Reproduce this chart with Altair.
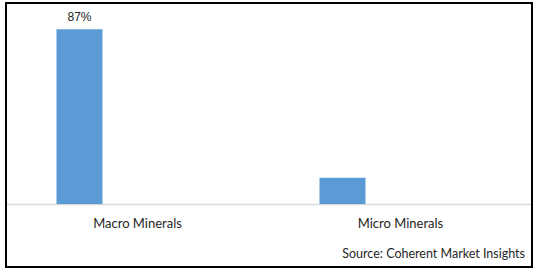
import altair as alt
import pandas as pd

categories = ["Macro Minerals", "Micro Minerals"]
values = [87, 13]
labels = ["87%", ""]
source_text = "Source: Coherent Market Insights"

df = pd.DataFrame({"category": categories, "value": values, "label": labels})

W, H = 526, 201

x = alt.X("category:N", sort=categories, title=None,
          scale=alt.Scale(paddingInner=0, paddingOuter=0),
          axis=alt.Axis(labelAngle=0, labelFont="Lato", labelFontSize=13,
                        labelColor="#262626", labelPadding=13, ticks=False,
                        domainColor="#d9d9d9", domainWidth=1.5))
y = alt.Y("value:Q", scale=alt.Scale(domain=[0, 100], nice=False), axis=None)

bars = alt.Chart(df).mark_bar(width=46, xOffset=-58, color="#5b9bd5").encode(x=x, y=y)

text = alt.Chart(df).mark_text(xOffset=-58, dy=-12, font="Liberation Sans",
                               fontSize=12, color="#262626").encode(
    x=alt.X("category:N", sort=categories), y="value:Q", text="label:N")

border = alt.Chart(df).mark_rect(fill=None, stroke="black", strokeWidth=2).encode(
    x=alt.value(0), x2=alt.value(526), y=alt.value(0), y2=alt.value(264))

src = alt.Chart(pd.DataFrame({"t": [source_text]})).mark_text(
    align="right", baseline="middle", font="Lato", fontSize=12.5, color="#262626").encode(
    x=alt.value(519), y=alt.value(251), text="t:N")

chart = alt.layer(bars, text, src, border).properties(
    width=W, height=H,
    autosize=alt.AutoSizeParams(type="none"),
    padding={"left": 6, "top": 3, "right": 6, "bottom": 68},
).configure_view(stroke=None).configure(background="white")

chart.save("out.html", embed_options={"renderer": "svg", "actions": False})
